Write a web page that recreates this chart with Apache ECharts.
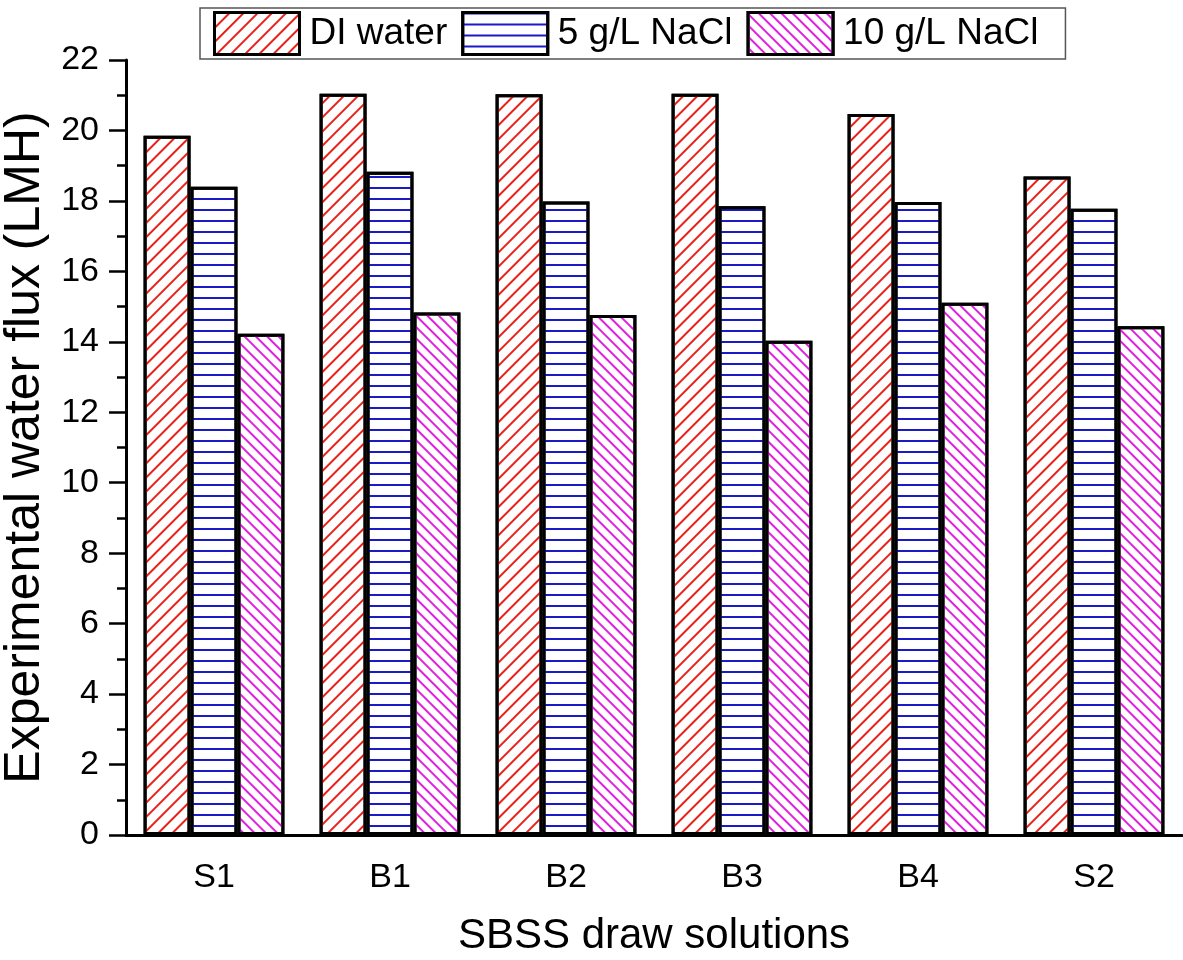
<!DOCTYPE html>
<html>
<head>
<meta charset="utf-8">
<title>Experimental water flux</title>
<script src="https://cdn.jsdelivr.net/npm/echarts@6/dist/echarts.min.js"></script>
<style>
  html, body { margin: 0; padding: 0; background: #fff; }
  #chart { width: 1183px; height: 960px; }
</style>
</head>
<body>
<div id="chart"></div>
<script>
// draw solutions on the x axis
const categories = ['S1', 'B1', 'B2', 'B3', 'B4', 'S2']
// water flux (LMH)
const diWater = [19.85, 21.04, 21.03, 21.04, 20.47, 18.69]
const nacl5 = [18.40, 18.83, 17.98, 17.85, 17.97, 17.78]
const nacl10 = [14.23, 14.83, 14.76, 14.03, 15.11, 14.44]
const seriesNames = ['DI water', '5 g/L NaCl', '10 g/L NaCl']
const yTicks = { min: 0, max: 22, interval: 2 }

const FONT = 'Liberation Sans, Arial, sans-serif'

// hatch patterns, one per series
const hatches = [
  { color: '#e8211a', dashArrayX: [1, 0], dashArrayY: [2, 8], rotation: -Math.PI / 4 },
  { color: '#1a1ac8', dashArrayX: [1, 0], dashArrayY: [2, 9], rotation: 0 },
  { color: '#e020e0', dashArrayX: [1, 0], dashArrayY: [2, 6], rotation: Math.PI / 4 }
]

const barSeries = (name, data, hatch) => ({
  name: name,
  type: 'bar',
  data: data,
  barGap: '0%',
  barCategoryGap: '20%',
  itemStyle: {
    color: '#ffffff',
    borderColor: '#000',
    borderWidth: 3,
    decal: Object.assign({ symbol: 'rect', symbolSize: 1 }, hatch)
  }
})

const chart = echarts.init(document.getElementById('chart'))
chart.setOption({
  animation: false,
  backgroundColor: '#fff',
  textStyle: { fontFamily: FONT },
  legend: {
    left: 200,
    top: 8,
    icon: 'rect',
    itemWidth: 85,
    itemHeight: 42,
    itemGap: 14,
    padding: [3, 27, 3, 13],
    borderColor: '#555',
    borderWidth: 1.5,
    itemStyle: { borderColor: '#000', borderWidth: 3 },
    textStyle: { fontSize: 37, color: '#000', fontFamily: FONT, padding: [0, 0, 0, 5] },
    data: seriesNames
  },
  grid: { left: 126, right: 1, top: 60, bottom: 125, containLabel: false, outerBoundsMode: 'none' },
  xAxis: [
    {
      type: 'category',
      data: categories,
      name: 'SBSS draw solutions',
      nameLocation: 'middle',
      nameGap: 80,
      nameTextStyle: { fontSize: 42, color: '#000', fontFamily: FONT },
      axisLine: { lineStyle: { color: '#000', width: 3 } },
      axisTick: { alignWithLabel: true, length: 17, lineStyle: { color: '#000', width: 2.5 } },
      axisLabel: { fontSize: 34, color: '#000', margin: 26, fontFamily: FONT }
    },
    {
      // boundary ticks between categories
      type: 'category',
      data: categories,
      position: 'bottom',
      axisLine: { show: false },
      axisTick: { length: 8, lineStyle: { color: '#000', width: 2.5 } },
      axisLabel: { show: false }
    }
  ],
  yAxis: {
    type: 'value',
    min: yTicks.min,
    max: yTicks.max,
    interval: yTicks.interval,
    name: 'Experimental water flux (LMH)',
    nameLocation: 'middle',
    nameGap: 73,
    nameTextStyle: { fontSize: 50, color: '#000', fontFamily: FONT },
    axisLine: { show: true, lineStyle: { color: '#000', width: 3 } },
    axisTick: { show: true, length: 17, lineStyle: { color: '#000', width: 2.5 } },
    minorTick: { show: true, splitNumber: 2, length: 9, lineStyle: { color: '#000', width: 2.5 } },
    splitLine: { show: false },
    axisLabel: { fontSize: 34, color: '#000', margin: 27, fontFamily: FONT }
  },
  series: [
    barSeries(seriesNames[0], diWater, hatches[0]),
    barSeries(seriesNames[1], nacl5, hatches[1]),
    barSeries(seriesNames[2], nacl10, hatches[2])
  ]
})
</script>
</body>
</html>
